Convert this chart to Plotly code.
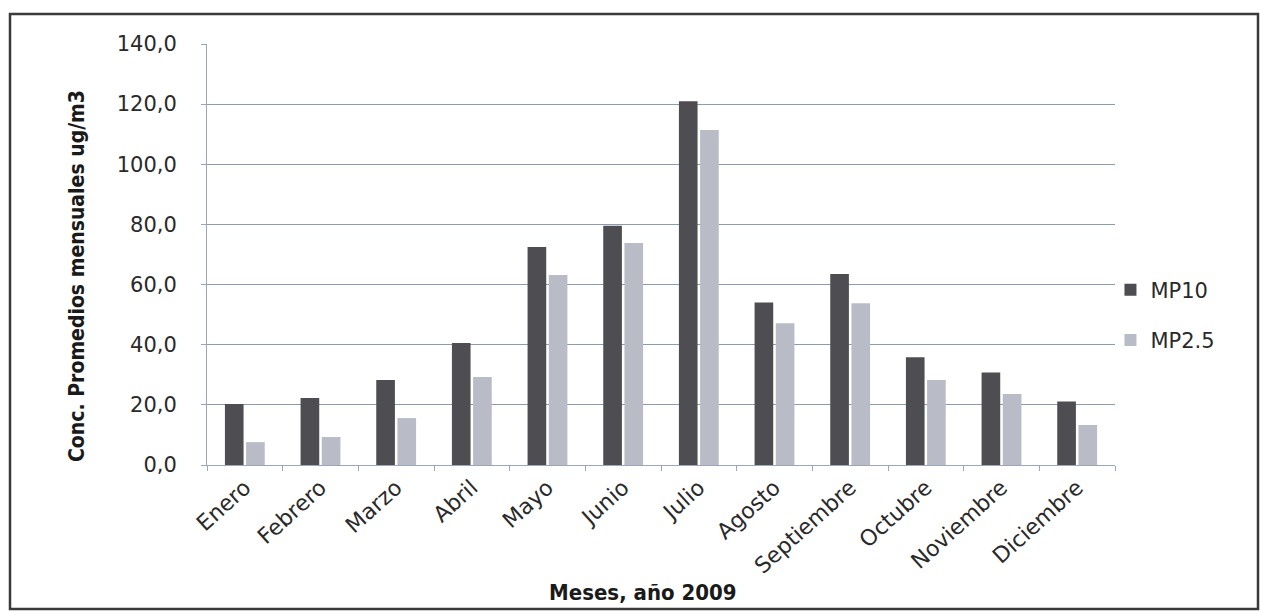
import plotly.graph_objects as go

meses = ["Enero", "Febrero", "Marzo", "Abril", "Mayo", "Junio", "Julio",
         "Agosto", "Septiembre", "Octubre", "Noviembre", "Diciembre"]
mp10 = [20.3, 22.3, 28.3, 40.6, 72.5, 79.6, 121.0, 54.0, 63.5, 35.8, 30.8, 21.1]
mp25 = [7.6, 9.3, 15.6, 29.3, 63.2, 73.8, 111.4, 47.1, 53.8, 28.3, 23.6, 13.3]
y_ticks = [0, 20, 40, 60, 80, 100, 120, 140]
y_tick_text = ["0,0", "20,0", "40,0", "60,0", "80,0", "100,0", "120,0", "140,0"]

font_main = "DejaVu Sans, Open Sans, sans-serif"
font_cond = "DejaVu Sans Condensed, Liberation Sans Narrow, Roboto, sans-serif"

fig = go.Figure()
fig.add_trace(go.Bar(x=meses, y=mp10, name="MP10", legendgroup="a",
                     marker=dict(color="#4d4d52", line=dict(width=0))))
fig.add_trace(go.Bar(x=meses, y=mp25, name="MP2.5", legendgroup="b",
                     marker=dict(color="#b9bcc7", line=dict(width=0))))

fig.update_layout(
    width=1263, height=611,
    margin=dict(l=207, r=148, t=44, b=146),
    paper_bgcolor="white", plot_bgcolor="white",
    barmode="group", bargap=0.44, bargroupgap=0.12,
    showlegend=True,
    legend=dict(x=0.995, y=0.356, xanchor="left", yanchor="middle",
                font=dict(family=font_main, size=21, color="#2a2a2a"),
                itemsizing="constant", tracegroupgap=20,
                traceorder="grouped",
                bgcolor="rgba(0,0,0,0)"),
    font=dict(family=font_main, color="#2a2a2a"),
)
fig.update_yaxes(
    range=[0, 140], tickvals=y_ticks, ticktext=y_tick_text,
    tickfont=dict(family=font_main, size=21, color="#2a2a2a"),
    ticklabelstandoff=20,
    showgrid=True, gridcolor="#8b9bb3", gridwidth=1.3,
    showline=True, linecolor="#9aa6bb", linewidth=1,
    ticks="outside", ticklen=5, tickcolor="#9aa6bb",
    zeroline=False,
)
fig.update_xaxes(
    tickangle=-42,
    tickfont=dict(family=font_main, size=22, color="#2a2a2a"),
    showline=True, linecolor="#9aa6bb", linewidth=1.3,
    ticks="outside", tickson="boundaries", ticklen=5, tickcolor="#9aa6bb",
)
# axis titles placed as annotations (pixel positions converted to paper coords)
fig.add_annotation(text="<b>Conc. Promedios mensuales ug/m3</b>",
                   xref="paper", yref="paper",
                   x=(77 - 207) / 908, y=(465 - 276) / 421,
                   xanchor="center", yanchor="middle",
                   textangle=-90, showarrow=False,
                   font=dict(family=font_cond, size=21, color="#1a1a1a"))
fig.add_annotation(text="<b>Meses, año 2009</b>",
                   xref="paper", yref="paper",
                   x=(643 - 207) / 908, y=(465 - 592) / 421,
                   xanchor="center", yanchor="middle",
                   showarrow=False,
                   font=dict(family=font_cond, size=22, color="#1a1a1a"))
fig.add_shape(type="rect", xref="paper", yref="paper",
              x0=(10 - 207) / 908, x1=(1258 - 207) / 908,
              y0=(465 - 609) / 421, y1=(465 - 14) / 421,
              line=dict(color="#3a3a3a", width=2.5), layer="below")

fig.write_html("out.html")
